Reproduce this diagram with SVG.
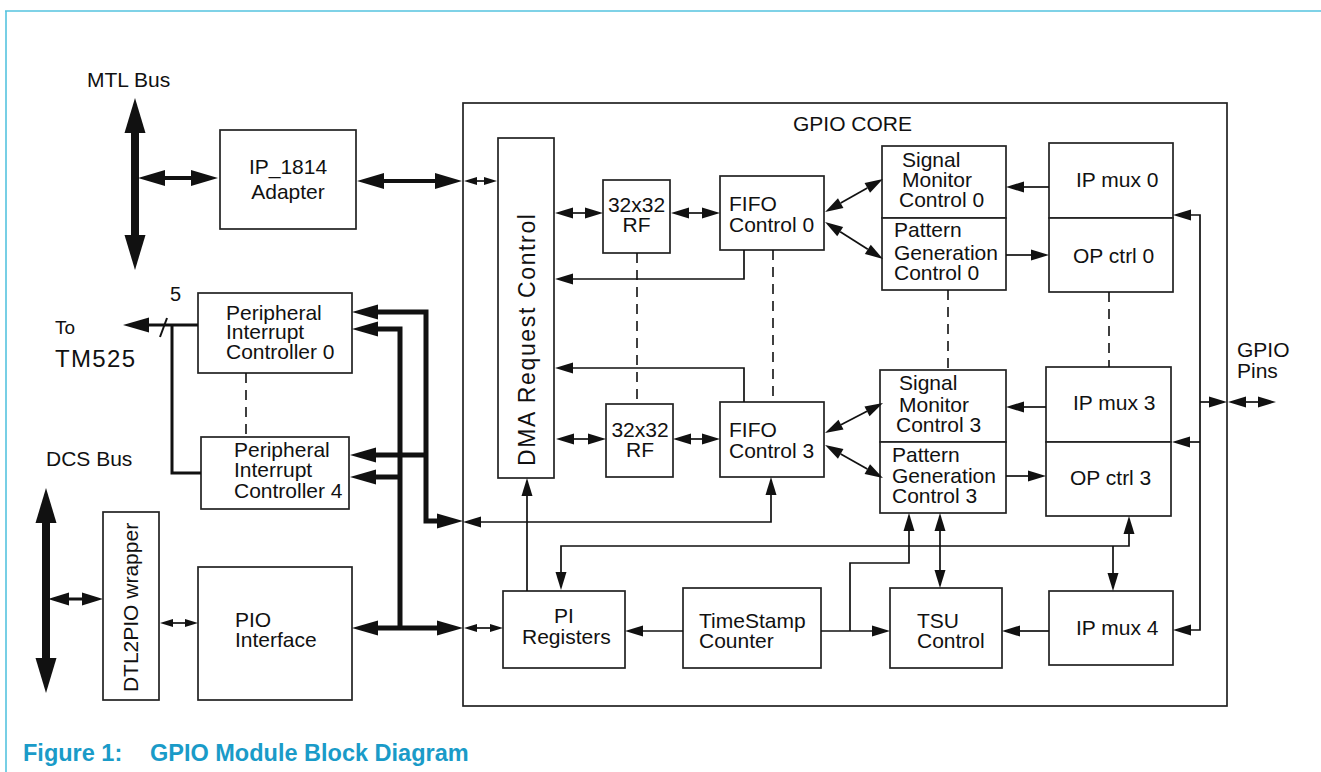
<svg xmlns="http://www.w3.org/2000/svg" width="1321" height="772" viewBox="0 0 1321 772">
<defs>
<style>
.box{fill:#fff;stroke:#222;stroke-width:1.7}
.t{font-family:"Liberation Sans",Arial,sans-serif;font-size:21px;fill:#111}
.c{text-anchor:middle}
.ln{fill:none;stroke:#111;stroke-width:1.7}
.dash{fill:none;stroke:#111;stroke-width:1.6;stroke-dasharray:10 7}
.cap{font-family:"Liberation Sans",Arial,sans-serif;font-size:23.5px;font-weight:bold;fill:#1a9bc8}
</style>
<marker id="a" markerUnits="userSpaceOnUse" orient="auto-start-reverse" refX="0" refY="0" markerWidth="1" markerHeight="1" style="overflow:visible"><path d="M0,-5.5 L18,0 L0,5.5 z" fill="#111"/></marker>
<marker id="s" markerUnits="userSpaceOnUse" orient="auto-start-reverse" refX="0" refY="0" markerWidth="1" markerHeight="1" style="overflow:visible"><path d="M0,-4 L13,0 L0,4 z" fill="#111"/></marker>
<marker id="m" markerUnits="userSpaceOnUse" orient="auto-start-reverse" refX="0" refY="0" markerWidth="1" markerHeight="1" style="overflow:visible"><path d="M0,-8 L27,0 L0,8 z" fill="#111"/></marker>
<marker id="d" markerUnits="userSpaceOnUse" orient="auto-start-reverse" refX="0" refY="0" markerWidth="1" markerHeight="1" style="overflow:visible"><path d="M0,-6.5 L21,0 L0,6.5 z" fill="#111"/></marker>
<marker id="k" markerUnits="userSpaceOnUse" orient="auto-start-reverse" refX="0" refY="0" markerWidth="1" markerHeight="1" style="overflow:visible"><path d="M0,-7.5 L26,0 L0,7.5 z" fill="#111"/></marker>
<marker id="b" markerUnits="userSpaceOnUse" orient="auto-start-reverse" refX="0" refY="0" markerWidth="1" markerHeight="1" style="overflow:visible"><path d="M0,-10.5 L35,0 L0,10.5 z" fill="#111"/></marker>
</defs>
<rect x="0" y="0" width="1321" height="772" fill="#fff"/>
<g id="frame" fill="none" stroke="#55c3df" stroke-width="1.6">
<path d="M5,11 H1321"/>
<path d="M6,11 V772"/>
</g>
<g id="caption">
<text class="cap" x="23" y="761">Figure 1:</text>
<text class="cap" x="150" y="761">GPIO Module Block Diagram</text>
</g>
<g id="labels">
<text class="t" x="87" y="87">MTL Bus</text>
<text class="t" x="55" y="334" style="font-size:19px">To</text>
<text class="t" x="55" y="367" style="font-size:24px" textLength="80">TM525</text>
<text class="t" x="170" y="301" style="font-size:20px">5</text>
<text class="t" x="46" y="466">DCS Bus</text>
<text class="t" x="1237" y="357">GPIO</text>
<text class="t" x="1237" y="378">Pins</text>
</g>
<g id="gpio-core">
<rect class="box" x="463" y="103" width="764" height="603" fill="none"/>
<text class="t" x="793" y="131">GPIO CORE</text>
</g>
<g id="ip1814">
<rect class="box" x="220" y="130" width="136" height="99"/>
<text class="t c" x="288" y="174">IP_1814</text>
<text class="t c" x="288" y="199">Adapter</text>
</g>
<g id="pic0">
<rect class="box" x="198" y="293" width="154" height="80"/>
<text class="t" x="226" y="320">Peripheral</text>
<text class="t" x="226" y="339">Interrupt</text>
<text class="t" x="226" y="359">Controller 0</text>
</g>
<g id="pic4">
<rect class="box" x="201" y="437" width="148" height="72"/>
<text class="t" x="234" y="457">Peripheral</text>
<text class="t" x="234" y="477">Interrupt</text>
<text class="t" x="234" y="498">Controller 4</text>
</g>
<g id="dtl2pio">
<rect class="box" x="103" y="512" width="56" height="188"/>
<text class="t c" transform="translate(137.5,607.5) rotate(-90)" x="0" y="0">DTL2PIO wrapper</text>
</g>
<g id="pio">
<rect class="box" x="198" y="567" width="154" height="133"/>
<text class="t" x="235" y="627">PIO</text>
<text class="t" x="235" y="647">Interface</text>
</g>
<g id="dma">
<rect class="box" x="498" y="138" width="56" height="340"/>
<text class="t c" transform="translate(535,340) rotate(-90)" x="0" y="0" style="font-size:23px" textLength="252" lengthAdjust="spacing">DMA Request Control</text>
</g>
<g id="rf0">
<rect class="box" x="603" y="180" width="67" height="73"/>
<text class="t c" x="636.5" y="212">32x32</text>
<text class="t c" x="636.5" y="232">RF</text>
</g>
<g id="fifo0">
<rect class="box" x="720" y="176" width="104" height="74"/>
<text class="t" x="729" y="211">FIFO</text>
<text class="t" x="729" y="232">Control 0</text>
</g>
<g id="sigmon0">
<rect class="box" x="882" y="146" width="124" height="72"/>
<text class="t" x="902" y="167">Signal</text>
<text class="t" x="902" y="187">Monitor</text>
<text class="t" x="899" y="207">Control 0</text>
</g>
<g id="patgen0">
<rect class="box" x="882" y="218" width="124" height="72"/>
<text class="t" x="894" y="237">Pattern</text>
<text class="t" x="894" y="260">Generation</text>
<text class="t" x="894" y="280">Control 0</text>
</g>
<g id="ipmux0">
<rect class="box" x="1049" y="143" width="124" height="75"/>
<text class="t" x="1076" y="187">IP mux 0</text>
</g>
<g id="opctrl0">
<rect class="box" x="1049" y="218" width="124" height="74"/>
<text class="t" x="1073" y="263">OP ctrl 0</text>
</g>
<g id="rf3">
<rect class="box" x="606" y="404" width="67" height="73"/>
<text class="t c" x="640" y="437">32x32</text>
<text class="t c" x="640" y="457">RF</text>
</g>
<g id="fifo3">
<rect class="box" x="720" y="402" width="104" height="75"/>
<text class="t" x="729" y="437">FIFO</text>
<text class="t" x="729" y="458">Control 3</text>
</g>
<g id="sigmon3">
<rect class="box" x="880" y="370" width="126" height="72"/>
<text class="t" x="899" y="390">Signal</text>
<text class="t" x="899" y="412">Monitor</text>
<text class="t" x="896" y="432">Control 3</text>
</g>
<g id="patgen3">
<rect class="box" x="880" y="442" width="126" height="71"/>
<text class="t" x="892" y="462">Pattern</text>
<text class="t" x="892" y="483">Generation</text>
<text class="t" x="892" y="503">Control 3</text>
</g>
<g id="ipmux3">
<rect class="box" x="1046" y="367" width="125" height="75"/>
<text class="t" x="1073" y="410">IP mux 3</text>
</g>
<g id="opctrl3">
<rect class="box" x="1046" y="442" width="125" height="74"/>
<text class="t" x="1070" y="485">OP ctrl 3</text>
</g>
<g id="piregs">
<rect class="box" x="503" y="591" width="122" height="77"/>
<text class="t" x="554" y="623">PI</text>
<text class="t" x="522" y="644">Registers</text>
</g>
<g id="tsc">
<rect class="box" x="683" y="588" width="138" height="80"/>
<text class="t" x="699" y="628">TimeStamp</text>
<text class="t" x="699" y="648">Counter</text>
</g>
<g id="tsu">
<rect class="box" x="890" y="588" width="112" height="80"/>
<text class="t" x="917" y="628">TSU</text>
<text class="t" x="917" y="648">Control</text>
</g>
<g id="ipmux4">
<rect class="box" x="1049" y="591" width="124" height="74"/>
<text class="t" x="1076" y="635">IP mux 4</text>
</g>
<g id="connectors">
<!-- buses -->
<path d="M135,133 V235" stroke="#111" stroke-width="8" marker-start="url(#b)" marker-end="url(#b)"/>
<path d="M46,523 V658" stroke="#111" stroke-width="8" marker-start="url(#b)" marker-end="url(#b)"/>
<path d="M165,178 H191" stroke="#111" stroke-width="4" marker-start="url(#m)" marker-end="url(#m)"/>
<path d="M384,181 H435" stroke="#111" stroke-width="4" marker-start="url(#m)" marker-end="url(#m)"/>
<path d="M477,181 H484" class="ln" stroke-width="2" marker-start="url(#s)" marker-end="url(#s)"/>
<path d="M69,599 H82" stroke="#111" stroke-width="3" marker-start="url(#d)" marker-end="url(#d)"/>
<path d="M173,623 H185" class="ln" stroke-width="2.5" marker-start="url(#s)" marker-end="url(#s)"/>
<!-- PIC / PIO thick bus -->
<path d="M378,628 H437" stroke="#111" stroke-width="5" marker-start="url(#k)" marker-end="url(#k)"/>
<path d="M400,628 V329 H378" fill="none" stroke="#111" stroke-width="5" marker-end="url(#k)"/>
<path d="M400,477 H376" fill="none" stroke="#111" stroke-width="5" marker-end="url(#k)"/>
<path d="M378,312 H426 V521 H437" fill="none" stroke="#111" stroke-width="5" marker-start="url(#k)" marker-end="url(#k)"/>
<path d="M426,455 H376" fill="none" stroke="#111" stroke-width="5" marker-end="url(#k)"/>
<path d="M477,628 H490" class="ln" stroke-width="2" marker-start="url(#s)" marker-end="url(#s)"/>
<!-- interrupt out -->
<path d="M198,325 H149" fill="none" stroke="#111" stroke-width="3" marker-end="url(#k)"/>
<path d="M172,325 V473 H201" fill="none" stroke="#111" stroke-width="3"/>
<path d="M160,337 L167,318" fill="none" stroke="#111" stroke-width="2"/>
<!-- core internals upper -->
<path d="M573,213 H585" class="ln" marker-start="url(#a)" marker-end="url(#a)"/>
<path d="M689,213 H702" class="ln" marker-start="url(#a)" marker-end="url(#a)"/>
<path d="M744,250 V279 H573" class="ln" marker-end="url(#a)"/>
<path d="M840.7,203.1 L867.3,187.9" class="ln" marker-start="url(#a)" marker-end="url(#a)"/>
<path d="M840.2,231.7 L867.8,249.3" class="ln" marker-start="url(#a)" marker-end="url(#a)"/>
<path d="M1049,187 H1024" class="ln" marker-end="url(#a)"/>
<path d="M1006,255 H1031" class="ln" marker-end="url(#a)"/>
<!-- core internals lower -->
<path d="M574,439 H588" class="ln" marker-start="url(#a)" marker-end="url(#a)"/>
<path d="M691,439 H702" class="ln" marker-start="url(#a)" marker-end="url(#a)"/>
<path d="M744,402 V368 H573" class="ln" marker-end="url(#a)"/>
<path d="M841,424.7 L867,411.3" class="ln" marker-start="url(#a)" marker-end="url(#a)"/>
<path d="M840.7,453.9 L867.3,469.1" class="ln" marker-start="url(#a)" marker-end="url(#a)"/>
<path d="M1046,407 H1024" class="ln" marker-end="url(#a)"/>
<path d="M1006,476 H1028" class="ln" marker-end="url(#a)"/>
<!-- right pin bus -->
<path d="M1191,215 H1200 V630 H1191" class="ln" marker-start="url(#a)" marker-end="url(#a)"/>
<path d="M1200,402 H1209" class="ln" marker-end="url(#a)"/>
<path d="M1200,442 H1190" class="ln" marker-end="url(#a)"/>
<path d="M1246,402 H1258" class="ln" stroke-width="2" marker-start="url(#a)" marker-end="url(#a)"/>
<!-- bottom -->
<path d="M481,522 H771 V495" class="ln" marker-start="url(#a)" marker-end="url(#a)"/>
<path d="M527,591 V496" class="ln" marker-end="url(#a)"/>
<path d="M561,572 V546 H1129 V534" class="ln" marker-start="url(#a)" marker-end="url(#a)"/>
<path d="M1113,546 V573" class="ln" marker-end="url(#a)"/>
<path d="M940,531 V570" class="ln" marker-start="url(#a)" marker-end="url(#a)"/>
<path d="M850,631 V563 H909 V531" class="ln" marker-end="url(#a)"/>
<path d="M821,631 H872" class="ln" marker-end="url(#a)"/>
<path d="M683,631 H643" class="ln" marker-end="url(#a)"/>
<path d="M1049,631 H1020" class="ln" marker-end="url(#a)"/>
<!-- dashed continuation -->
<path d="M637,253 V404" class="dash"/>
<path d="M773,250 V402" class="dash"/>
<path d="M948,290 V370" class="dash"/>
<path d="M1109,292 V367" class="dash"/>
<path d="M246,373 V437" class="dash"/>
</g>
</svg>
